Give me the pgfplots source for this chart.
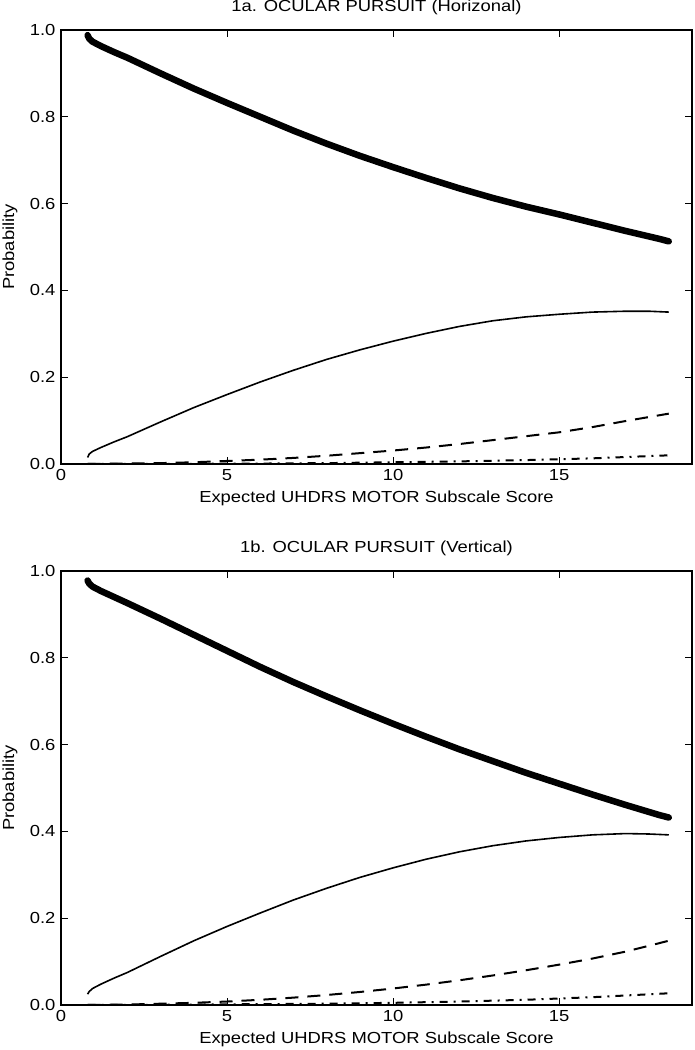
\documentclass[border=0pt]{standalone}
\usepackage{fontspec}
\setmainfont{Liberation Sans}[FakeStretch=1.15]
\usepackage{pgfplots}
\pgfplotsset{compat=1.18}
\pgfplotsset{
  panel/.style={
    scale only axis, width=631pt, height=434pt, anchor=south west,
    xmin=0, xmax=19, ymin=0, ymax=1,
    xtick={0,5,10,15}, ytick={0,0.2,0.4,0.6,0.8,1.0},
    tick align=inside, major tick length=7pt,
    xtick pos=both, ytick pos=both,
    xticklabel pos=bottom, yticklabel pos=left,
    minor tick num=0,
    axis line style={line width=1.1pt, black},
    every tick/.style={line width=0.8pt, black},
    /pgf/number format/assume math mode=true,
    yticklabel style={/pgf/number format/.cd, fixed, fixed zerofill, precision=1},
    tick label style={font=\fontsize{16}{19}\selectfont},
    label style={font=\fontsize{16}{19}\selectfont},
    title style={font=\fontsize{16}{19}\selectfont, at={(axis description cs:0.5,1.038)}, anchor=center},
    xlabel style={at={(axis description cs:0.5,-0.08)}, anchor=center},
    ylabel style={at={(axis description cs:-0.081,0.5)}, anchor=center, rotate=0},
    xlabel={Expected UHDRS MOTOR Subscale Score},
    ylabel={Probability},
  },
  thickline/.style={black, line width=6.5pt, line join=round, line cap=round},
  thinline/.style={black, line width=1.6pt, line join=round},
  dashline/.style={black, line width=2pt, dash pattern=on 13pt off 9pt},
  ddline/.style={black, line width=2pt, dash pattern=on 8pt off 6pt on 2pt off 6pt},
}
\begin{document}
\fontsize{16}{19}\selectfont
\begin{tikzpicture}
\useasboundingbox (0,0) rectangle (694pt,1050pt);
% ---------- 1a ----------
\begin{axis}[panel, at={(61pt,586pt)}, title={1a. OCULAR PURSUIT (Horizonal)}]
\addplot[thickline] coordinates {
(0.8,0.988) (0.85,0.98) (0.95,0.973) (1.2,0.963) (1.6,0.949) (2,0.936) (3,0.9) (4,0.865) (5,0.832) (6,0.8) (7,0.768) (8,0.738) (9,0.71) (10,0.684) (11,0.659) (12,0.635) (13,0.613) (14,0.593) (15,0.575) (16,0.556) (17,0.537) (18,0.519) (18.3,0.513)};
\addplot[thinline] coordinates {
(0.8,0.015) (0.85,0.023) (0.95,0.029) (1.2,0.038) (1.6,0.051) (2,0.063) (3,0.097) (4,0.13) (5,0.16) (6,0.189) (7,0.216) (8,0.241) (9,0.263) (10,0.283) (11,0.301) (12,0.317) (13,0.33) (14,0.339) (15,0.345) (16,0.35) (17,0.352) (17.7,0.352) (18.3,0.35)};
\addplot[dashline] coordinates {
(0.8,0.0) (2,0.001) (3,0.002) (4,0.004) (5,0.007) (6,0.01) (7,0.014) (8,0.019) (9,0.025) (10,0.031) (11,0.038) (12,0.046) (13,0.055) (14,0.064) (15,0.073) (16,0.085) (17,0.099) (18.3,0.116)};
\addplot[ddline] coordinates {
(0.8,0.0) (4,0.0005) (6,0.001) (8,0.002) (10,0.004) (12,0.006) (14,0.009) (16,0.013) (18.3,0.02)};
\end{axis}
% ---------- 1b ----------
\begin{axis}[panel, at={(61pt,45pt)}, title={1b. OCULAR PURSUIT (Vertical)}]
\addplot[thickline] coordinates {
(0.8,0.978) (0.85,0.971) (0.95,0.964) (1.2,0.954) (1.6,0.94) (2,0.926) (3,0.89) (4,0.853) (5,0.816) (6,0.779) (7,0.744) (8,0.711) (9,0.679) (10,0.648) (11,0.618) (12,0.589) (13,0.562) (14,0.535) (15,0.51) (16,0.485) (17,0.461) (18,0.438) (18.3,0.432)};
\addplot[thinline] coordinates {
(0.8,0.025) (0.85,0.031) (0.95,0.038) (1.2,0.048) (1.6,0.062) (2,0.075) (3,0.112) (4,0.148) (5,0.181) (6,0.212) (7,0.242) (8,0.269) (9,0.294) (10,0.316) (11,0.336) (12,0.353) (13,0.367) (14,0.378) (15,0.386) (16,0.392) (17,0.395) (17.7,0.394) (18.3,0.392)};
\addplot[dashline] coordinates {
(0.8,0.0) (2,0.001) (3,0.003) (4,0.005) (5,0.008) (6,0.012) (7,0.017) (8,0.023) (9,0.03) (10,0.038) (11,0.047) (12,0.057) (13,0.068) (14,0.08) (15,0.093) (16,0.107) (17,0.123) (18.3,0.148)};
\addplot[ddline] coordinates {
(0.8,0.0) (4,0.001) (6,0.002) (8,0.003) (10,0.005) (12,0.008) (14,0.012) (16,0.018) (18.3,0.027)};
\end{axis}
\end{tikzpicture}
\end{document}
